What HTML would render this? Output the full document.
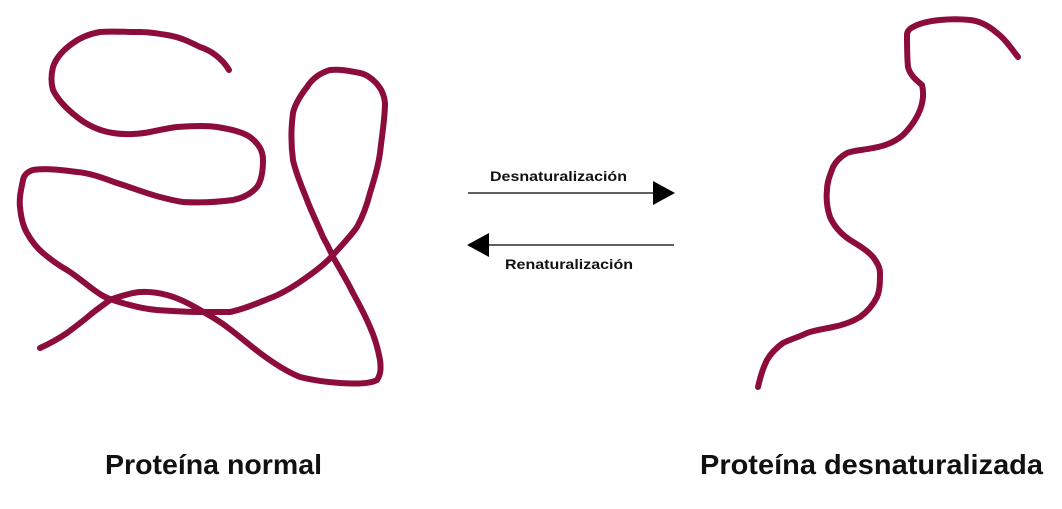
<!DOCTYPE html>
<html><head><meta charset="utf-8"><style>html,body{margin:0;padding:0;background:#fff}</style></head>
<body>
<svg width="1062" height="504" viewBox="0 0 1062 504" xmlns="http://www.w3.org/2000/svg">
<g fill="none" stroke="#8c0d3c" stroke-width="6" stroke-linecap="round" stroke-linejoin="round">
<path d="M229,70 C222,58 210,50 200,47 C190,42 180,37 167,35 C155,33 145,32 140,32 C125,32 110,31 100,32 C88,34 80,38 73,43 C63,50 56,58 53,67 C51,75 51,83 53,90 C58,100 68,110 77,117 C88,126 100,131 113,133 C125,135 140,134 150,132 C160,130 168,128 177,127 C190,126 205,125 217,127 C230,129 243,132 250,137 C259,144 263,151 263,160 C263,170 262,180 257,187 C251,194 243,198 233,200 C218,202 200,203 183,202 C175,201 168,199 160,197 C145,193 130,187 117,183 C103,178 90,173 77,172 C62,170 45,168 33,170 C27,172 24,175 23,180 C21,190 19,198 20,207 C21,218 23,226 27,233 C32,242 37,248 43,253 C50,259 58,265 67,270 C75,275 82,281 90,287 C98,293 105,298 113,300 C128,305 143,309 157,310 C172,311 187,312 200,312 C210,312 220,312 230,312 C245,309 260,302 273,297 C285,292 296,285 307,277 C317,270 326,263 333,255 C341,246 350,237 357,227 C363,216 367,205 370,193 C374,180 378,167 380,153 C382,135 385,118 385,103 C384,93 380,86 373,80 C368,76 365,74 360,73 C350,71 340,69 330,70 C320,73 312,79 307,87 C300,96 295,104 293,113 C291,128 291,145 293,160 C296,174 302,187 307,200 C312,213 318,225 323,237 C327,244 330,250 333,257 C340,269 347,281 353,293 C359,304 365,315 370,327 C375,338 378,349 380,360 C381,368 381,374 377,380 C370,384 355,384 340,383 C325,382 312,380 300,377 C285,371 272,362 260,353 C248,344 238,335 227,327 C218,320 209,315 200,310 C190,304 178,298 167,295 C155,292 143,291 133,293 C125,295 117,297 110,300 C103,305 96,310 90,315 C83,321 75,327 67,333 C58,339 49,344 40,348"/>
<path d="M1018,57 C1011,48 1005,39 997,33 C989,26 980,21 970,20 C960,19 950,19 940,20 C930,21 920,23 913,27 C909,29 907,32 907,35 C907,46 907,57 908,67 C910,75 916,80 922,85 C924,93 923,102 920,110 C916,120 910,128 903,135 C895,142 885,146 873,148 C864,150 855,150 847,153 C840,157 836,161 833,167 C830,175 827,182 827,190 C826,199 827,208 830,217 C834,226 841,234 850,240 C858,245 867,250 873,257 C877,262 880,267 880,273 C880,281 880,290 877,297 C873,305 867,312 860,317 C852,322 843,325 833,327 C824,329 815,330 807,333 C799,337 791,339 783,343 C776,348 771,353 767,360 C763,368 760,378 758,387"/>
</g>
<line x1="468" y1="193" x2="655" y2="193" stroke="#000" stroke-width="1.3"/>
<polygon points="653,181 675,193 653,205" fill="#000"/>
<line x1="487" y1="245" x2="674" y2="245" stroke="#000" stroke-width="1.3"/>
<polygon points="489,233 467,245 489,257" fill="#000"/>
<g font-family="Liberation Sans, Arial, sans-serif" font-weight="bold" fill="#111">
<text x="490" y="181" font-size="14" textLength="137" lengthAdjust="spacingAndGlyphs">Desnaturalización</text>
<text x="505" y="269" font-size="14" textLength="128" lengthAdjust="spacingAndGlyphs">Renaturalización</text>
<text x="105" y="474" font-size="28" textLength="217" lengthAdjust="spacingAndGlyphs">Proteína normal</text>
<text x="700" y="474" font-size="28" textLength="343" lengthAdjust="spacingAndGlyphs">Proteína desnaturalizada</text>
</g>
</svg>
</body></html>
